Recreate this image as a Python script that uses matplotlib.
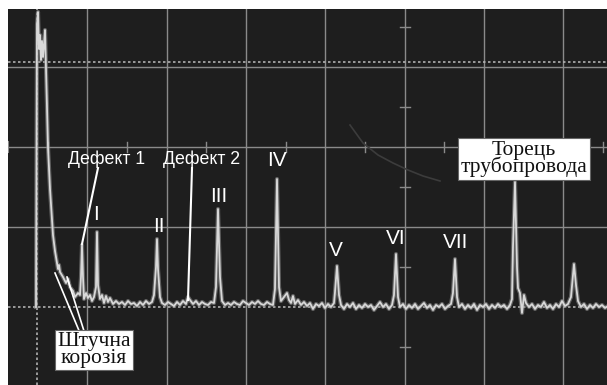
import matplotlib.pyplot as plt
import numpy as np

# осцилограма: час (умовні од.), амплітуда (умовні од.), 0 = базова лінія
trace_x = [28, 29, 30, 31, 32, 33, 34, 35, 36, 37, 38, 39, 40, 42, 44, 45, 47, 49, 50, 51,
           52, 55, 58, 60, 62, 65, 67, 70, 72, 73, 74, 75, 76, 78, 80, 82, 84, 86, 88, 89,
           90, 92, 94, 96, 98, 100, 102, 105,
           108, 111, 114, 117, 120, 123, 126, 129, 132, 135, 138, 141, 144, 146, 148, 149, 150, 152,
           154, 157, 160, 163, 166, 169, 172, 175, 178, 180, 182, 185, 188, 191, 194, 197, 200, 203,
           206, 208, 210, 212, 214, 217, 220, 223, 226, 229, 232, 235, 238, 241, 244, 247, 250, 253,
           256, 259, 262, 265, 267, 269, 271, 273, 276, 279, 281, 283, 285, 287, 290, 293, 296, 299,
           302, 305, 308, 311, 314, 317, 320, 323, 326, 327, 329, 331, 333, 336, 339, 342, 345, 348,
           351, 354, 357, 360, 363, 366, 369, 372, 375, 378, 381, 384, 386, 388, 390, 392, 395, 398,
           401, 404, 407, 410, 413, 416, 419, 422, 425, 428, 431, 434, 437, 440, 443, 445, 447, 449,
           451, 454, 457, 460, 463, 466, 469, 472, 475, 478, 481, 484, 487, 490, 493, 496, 499, 502,
           504, 505, 507, 509, 510, 512, 514, 516, 518, 521, 524, 527, 530, 533, 536, 539, 542, 545,
           548, 551, 554, 557, 560, 563, 566, 568, 570, 573, 576, 579, 582, 585, 588, 591, 594, 597, 600]
trace_y = [0, 282, 295, 258, 272, 247, 266, 250, 262, 277, 240, 200, 160, 118, 88, 72, 56, 44, 38, 42,
           35, 30, 24, 28, 20, 16, 10, 14, 12, 30, 62, 30, 8, 14, 9, 12, 6, 10, 20, 75,
           22, 8, 12, 4, 11, 5, 9, 3,
           6, 3, 5, 2, 6, 3, 4, 1, 5, 2, 6, 3, 5, 12, 40, 68, 38, 10,
           4, 2, 5, 3, 1, 5, 2, 6, 3, 10, 7, 3, 6, 2, 5, 3, 2, 5,
           4, 20, 98, 30, 6, 2, 4, 2, 5, 3, 2, 6, 4, 2, 5, 3, 6, 3,
           2, 5, 3, 2, 18, 128, 20, 6, 10, 14, 7, 4, 11, 3, 7, 2, 5, 1,
           4, -2, 3, 1, 4, -1, 3, 0, 4, 15, 41, 12, 2, -2, 3, 0, 4, -2,
           2, -1, 3, 0, 2, -3, 1, 5, 0, 3, -2, 2, 12, 53, 10, 0, 3, -2,
           2, -1, 3, -2, 1, 4, -1, 2, -3, 2, 0, 3, -2, 1, 3, 14, 48, 10,
           0, 3, -2, 2, -1, 3, -3, 2, 0, 3, -2, 2, -1, 3, 0, 2, -2, 2,
           8, 60, 125, 40, 19, 14, -6, 12, 4, 0, 3, -2, 2, 0, 5, -1, 2, -2,
           3, 0, 6, 1, 3, 10, 43, 22, 6, 0, 3, -2, 2, -1, 3, 0, 2, -1, 1]

# сітка екрана
div_x = 79.3
div_y = 80
grid_x = [div_x * k for k in range(1, 8)]
grid_y = [80, 160, 240]
marker_x = 29
marker_y = [0, 245]

# відблиск на склі
arc_x = [342, 355, 370, 385, 400, 415, 432]
arc_y = [182, 164, 152, 144, 137, 131, 126]

peak_labels = ['I', 'II', 'III', 'IV', 'V', 'VI', 'VII']
peak_lx = [88, 151, 211, 269, 328, 388, 448]
peak_ly = [92, 81, 110, 146, 56, 69, 65]

bg = '#1e1e1e'
fig = plt.figure(figsize=(6.07, 3.85), dpi=100)
ax = fig.add_axes([8 / 607, 0, 1 - 8 / 607, 376 / 385])
ax.set_facecolor(bg)
ax.set_xlim(0, 599)
ax.set_ylim(-78, 298)
for s in ax.spines.values():
    s.set_visible(False)
ax.set_xticks([])
ax.set_yticks([])

for gx in grid_x:
    ax.axvline(gx, color='#8a8a8a', lw=1.0, zorder=1)
for gy in grid_y:
    ax.axhline(gy, color='#8a8a8a', lw=1.0, zorder=1)

# дрібні поділки на центральних осях
cx = grid_x[4]
cy = grid_y[1]
for k in range(0, 8):
    t = div_x * (k + 0.5)
    ax.plot([t, t], [cy - 5, cy + 5], color='#8a8a8a', lw=1.0, zorder=1)
ax.plot([0, 0], [cy - 5, cy + 5], color='#8a8a8a', lw=1.5, zorder=1)
for k in range(-1, 4):
    t = div_y * (k + 0.5)
    ax.plot([cx - 5, cx + 5], [t, t], color='#8a8a8a', lw=1.0, zorder=1)

ax.axvline(marker_x, color='#b0b0b0', lw=1.2, ls=(0, (1.5, 1.5)), zorder=2)
for my in marker_y:
    ax.axhline(my, color='#b0b0b0', lw=1.2, ls=(0, (1.5, 1.5)), zorder=2)

ax.plot(arc_x, arc_y, color='#3c3c3c', lw=1.2, zorder=1)

ax.plot(trace_x, trace_y, color='#8c8c8c', lw=3.0, alpha=0.6, zorder=3)
ax.plot(trace_x, trace_y, color='#d8d8d8', lw=1.3, zorder=4)

# підписи
sans = ['Liberation Sans', 'DejaVu Sans']
serif = ['Liberation Serif', 'DejaVu Serif']
for lab, lx, ly in zip(peak_labels, peak_lx, peak_ly):
    ax.text(lx, ly, lab, color='white', fontsize=15, family=sans,
            ha='center', va='center', zorder=6)

ax.text(99, 148, 'Дефект 1', color='white', fontsize=12.8, family=sans,
        ha='center', va='center', zorder=6)
ax.text(194, 148, 'Дефект 2', color='white', fontsize=12.8, family=sans,
        ha='center', va='center', zorder=6)
ax.plot([90, 74], [139, 63], color='white', lw=1.5, zorder=5)
ax.plot([184, 180], [139, 7], color='white', lw=1.5, zorder=5)

ax.plot([47, 72], [34, -26], color='white', lw=1.2, zorder=5)
ax.plot([59, 76], [30, -24], color='white', lw=1.2, zorder=5)

box = dict(boxstyle='square,pad=0.12', fc='white', ec='#666666', lw=0.8)
ax.text(86, -43, 'Штучна\nкорозія', color='#111111', fontsize=15.5, family=serif,
        ha='center', va='center', linespacing=0.8, bbox=box, zorder=7)
ax.text(516, 148, 'Торець\nтрубопровода', color='#111111', fontsize=15.5, family=serif,
        ha='center', va='center', linespacing=0.8, bbox=box, zorder=7)

fig.savefig('out.png', dpi=100, facecolor='white')
